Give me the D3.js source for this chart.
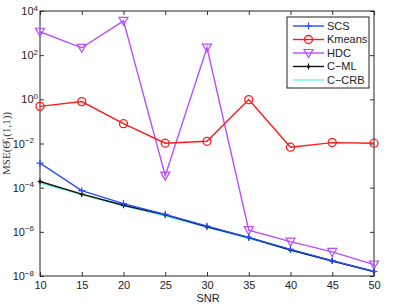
<!DOCTYPE html>
<html>
<head>
<meta charset="utf-8">
<script src="https://cdn.jsdelivr.net/npm/d3@7"></script>
<style>
  body { margin: 0; background: #fff; }
  svg { display: block; }
  .tick text, .lbl { font-family: "Liberation Sans", Arial, sans-serif; font-size: 11px; fill: #222; }
</style>
</head>
<body>
<div id="chart"></div>
<script>
var margin = { top: 11, right: 25, bottom: 31, left: 40 },
    width = 399 - margin.left - margin.right,
    height = 307 - margin.top - margin.bottom;

// données
var snr = [10, 15, 20, 25, 30, 35, 40, 45, 50];
var scs = [1.3e-3, 7.3e-5, 1.9e-5, 6.2e-6, 1.8e-6, 5.6e-7, 1.6e-7, 5.0e-8, 1.6e-8];
var kmeans = [0.48, 0.79, 0.079, 0.0103, 0.0126, 0.97, 0.0068, 0.011, 0.0103];
var hdc = [1150, 215, 3600, 3.5e-4, 220, 1.2e-6, 3.6e-7, 1.23e-7, 3.3e-8];
var cml = [1.9e-4, 5.1e-5, 1.6e-5, 5.9e-6, 1.7e-6, 5.5e-7, 1.5e-7, 4.8e-8, 1.6e-8];
var ccrb = [1.6e-4, 4.9e-5, 1.5e-5, 5.2e-6, 1.6e-6, 5.0e-7, 1.5e-7, 4.9e-8, 1.55e-8];
var seriesNames = ["SCS", "Kmeans", "HDC", "C\u2212ML", "C\u2212CRB"];
var yTickExps = [4, 2, 0, -2, -4, -6, -8];

var series = [
  { name: seriesNames[0], values: scs, color: "#2b4cff", marker: "plus" },
  { name: seriesNames[1], values: kmeans, color: "#ff1a1a", marker: "circle" },
  { name: seriesNames[2], values: hdc, color: "#b84cff", marker: "tri" },
  { name: seriesNames[3], values: cml, color: "#111111", marker: "dot" },
  { name: seriesNames[4], values: ccrb, color: "#6ff5dc", marker: "none" }
];

var svg = d3.select("#chart").append("svg")
    .attr("width", width + margin.left + margin.right)
    .attr("height", height + margin.top + margin.bottom)
  .append("g")
    .attr("transform", "translate(" + margin.left + "," + margin.top + ")");

var x = d3.scaleLinear().domain([10, 50]).range([0, width]);
var y = d3.scaleLog().domain([1e-8, 1e4]).range([height, 0]);

// axes (ticks vers l'intérieur)
var xAxis = svg.append("g").attr("transform", "translate(0," + height + ")")
  .call(d3.axisBottom(x).tickValues(snr).tickSizeInner(-4).tickSizeOuter(0).tickPadding(5));
svg.append("g")
  .call(d3.axisTop(x).tickValues(snr).tickSizeInner(-4).tickSizeOuter(0).tickFormat(""));
var yAxis = svg.append("g")
  .call(d3.axisLeft(y).tickValues(yTickExps.map(function(e) { return Math.pow(10, e); }))
    .tickSizeInner(-4).tickSizeOuter(0).tickPadding(6).tickFormat(""));
svg.append("g").attr("transform", "translate(" + width + ",0)")
  .call(d3.axisRight(y).tickValues(yTickExps.map(function(e) { return Math.pow(10, e); }))
    .tickSizeInner(-4).tickSizeOuter(0).tickFormat(""));

svg.selectAll(".domain").remove();
svg.selectAll(".tick line").attr("stroke", "#333");
svg.append("rect").attr("width", width).attr("height", height)
  .attr("fill", "none").attr("stroke", "#222").attr("stroke-width", 1);

// libellés en puissances de 10
yAxis.selectAll(".tick").each(function(d) {
  var e = Math.round(Math.log10(d));
  var t = d3.select(this).append("text").attr("x", -6).attr("dy", "0.32em")
    .attr("text-anchor", "end").attr("fill", "#222");
  t.append("tspan").text("10");
  t.append("tspan").attr("dy", "-0.55em").attr("font-size", "8px").text(e < 0 ? "\u2212" + (-e) : e);
  t.attr("transform", "translate(" + (e < 0 ? 0 : 4) + ",0)");
});

svg.append("text").attr("class", "lbl")
  .attr("x", width / 2 + 1).attr("y", height + 26)
  .attr("text-anchor", "middle").text("SNR");

var ylab = svg.append("text")
  .attr("transform", "translate(-30," + (height / 2) + ") rotate(-90)")
  .attr("text-anchor", "middle")
  .style("font-family", "'Liberation Serif', 'DejaVu Serif', serif")
  .style("font-size", "11px").attr("fill", "#333");
ylab.append("tspan").text("MSE(\u0398\u0302");
ylab.append("tspan").attr("dy", "3").attr("font-size", "8px").text("1");
ylab.append("tspan").attr("dy", "-3").text("(1,1))");

var line = d3.line()
  .x(function(d, i) { return x(snr[i]); })
  .y(function(d) { return y(d); });

function drawMarker(g, type, color) {
  if (type === "plus") {
    g.append("path").attr("d", "M-3.5,0H3.5M0,-3.5V3.5").attr("stroke", color).attr("stroke-width", 1.2);
  } else if (type === "circle") {
    g.append("circle").attr("r", 4).attr("fill", "none").attr("stroke", color).attr("stroke-width", 1.3);
  } else if (type === "tri") {
    g.append("path").attr("d", "M-4.5,-3.5L4.5,-3.5L0,4.5Z").attr("fill", "none").attr("stroke", color).attr("stroke-width", 1.2);
  } else if (type === "dot") {
    g.append("path").attr("d", "M-2.5,0H2.5M0,-3V3").attr("stroke", color).attr("stroke-width", 1);
    g.append("circle").attr("r", 1.6).attr("fill", color);
  }
}

// tracer les courbes (C-CRB d'abord)
series.slice().reverse().forEach(function(s) {
  svg.append("path").datum(s.values)
    .attr("fill", "none").attr("stroke", s.color).attr("stroke-width", 1.4)
    .attr("d", line);
  svg.selectAll(null).data(s.values).enter().append("g")
    .attr("transform", function(d, i) { return "translate(" + x(snr[i]) + "," + y(d) + ")"; })
    .each(function() { drawMarker(d3.select(this), s.marker, s.color); });
});

// légende
var lg = svg.append("g").attr("transform", "translate(" + (287 - margin.left) + "," + (17 - margin.top) + ")");
lg.append("rect").attr("width", 82).attr("height", 71)
  .attr("fill", "#fff").attr("stroke", "#222").attr("stroke-width", 1);
series.forEach(function(s, i) {
  var row = lg.append("g").attr("transform", "translate(0," + (9 + i * 13.5) + ")");
  row.append("line").attr("x1", 6).attr("x2", 37).attr("stroke", s.color).attr("stroke-width", 1.4);
  var m = row.append("g").attr("transform", "translate(21.5,0)");
  drawMarker(m, s.marker, s.color);
  row.append("text").attr("class", "lbl").attr("x", 40).attr("dy", "0.35em").attr("fill", "#222").text(s.name);
});
</script>
</body>
</html>
